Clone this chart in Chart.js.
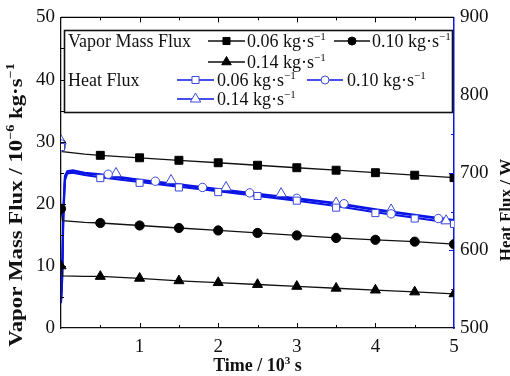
<!DOCTYPE html>
<html><head><meta charset="utf-8">
<script src="https://cdn.jsdelivr.net/npm/chart.js@4/dist/chart.umd.min.js"></script>
<style>html,body{margin:0;padding:0;background:#fff;overflow:hidden}#wrap{width:510px;height:376px;position:relative}</style>
</head><body><div id="wrap"><canvas id="c" width="510" height="376"></canvas></div>
<script>
// ---- Vapor mass flux (left axis, 10^-6 kg/s) ----
const blackTimes = [0, 0.02, 0.3, 0.5, 1.0, 1.5, 2.0, 2.5, 3.0, 3.5, 4.0, 4.5, 5.0];
const vmf006 = [29.5, 28.4, 28.0, 27.8, 27.4, 27.0, 26.6, 26.2, 25.8, 25.4, 25.0, 24.6, 24.2];
const vmf010 = [19.2, 17.3, 17.0, 16.9, 16.5, 16.1, 15.7, 15.3, 14.9, 14.5, 14.2, 13.9, 13.5];
const vmf014 = [10.0, 8.4, 8.3, 8.3, 8.0, 7.6, 7.3, 7.0, 6.7, 6.4, 6.1, 5.8, 5.5];
// ---- Heat flux (right axis, W) lines ----
const heatTimes = [0, 0.015, 0.03, 0.05, 0.08, 0.15, 0.3, 0.5, 1.0, 1.5, 2.0, 2.5, 3.0, 3.5, 4.0, 4.5, 5.0];
const hf006 = [532, 560, 640, 690, 699, 700, 697, 694, 688, 682, 676, 670, 664, 657, 649, 642, 635];
const hf010 = [533, 565, 648, 694, 701, 702, 699, 697, 690, 684, 678, 672, 666, 660, 652, 645, 638];
const hf014 = [534, 570, 655, 696, 702, 703, 700, 698, 691, 685, 679, 673, 667, 661, 653, 646, 639];
// ---- Heat flux open markers ----
const hfMarkT006 = [0, 0.5, 1.0, 1.5, 2.0, 2.5, 3.0, 3.5, 4.0, 4.5, 5.0];
const hfMark006 = [733, 693, 687, 681, 675, 670, 664, 655, 648, 641, 634];
const hfMarkT010 = [0, 0.6, 1.2, 1.8, 2.4, 3.0, 3.6, 4.2, 4.8];
const hfMark010 = [737, 698, 689, 681, 674, 667, 660, 647, 641];
const hfMarkT014 = [0, 0.7, 1.4, 2.1, 2.8, 3.5, 4.2, 4.9];
const hfMark014 = [741, 699, 690, 681, 673, 661, 652, 638];
// ---- labels ----
const xTitle = [['Time / 10'], ['3', 1], [' s']];
const yTitle = [['Vapor Mass Flux / 10'], ['\u22126', 1], [' kg\u00b7s'], ['\u22121', 1]];
const y2Title = [['Heat Flux / W']];
const legendGroup1 = 'Vapor Mass Flux';
const legendGroup2 = 'Heat Flux';
const seriesLabels = ['0.06', '0.10', '0.14'];

const BLUE = '#0a14e6';
const MBLUE = '#3a48d8';
const SERIF = '"Liberation Serif", "Times New Roman", serif';

const pts = (xs, ys) => xs.map((x, i) => ({x, y: ys[i]}));
const halfStepR = r => ctx => {
  const t = blackTimes[ctx.dataIndex];
  return Math.abs(t * 2 - Math.round(t * 2)) < 1e-6 ? r : 0;
};

function blueLine(data) {
  return {data: pts(heatTimes, data), yAxisID: 'y2', borderColor: BLUE, borderWidth: 2, pointRadius: 0, tension: 0, clip: 0, order: 5};
}
function blueMarks(xs, ys, style, r) {
  return {data: pts(xs, ys), yAxisID: 'y2', showLine: false, pointStyle: style, pointRadius: r,
    pointBackgroundColor: '#fff', pointBorderColor: MBLUE, pointBorderWidth: 1, clip: 0, order: 1};
}
function blackLine(data, style, r) {
  return {data: pts(blackTimes, data), yAxisID: 'y', borderColor: '#111', borderWidth: 1.3, tension: 0,
    pointStyle: style, pointRadius: halfStepR(r), pointBackgroundColor: '#000', pointBorderColor: '#000', pointBorderWidth: 1, clip: 0, order: 2};
}

function rich(ctx, parts, x, y, size, bold, align) {
  const f = s => (bold ? 'bold ' : '') + s + 'px ' + SERIF;
  let w = 0;
  parts.forEach(p => { ctx.font = f(p[1] ? size * 0.62 : size); w += ctx.measureText(p[0]).width; });
  let cx = align === 'center' ? x - w / 2 : x;
  ctx.textAlign = 'left'; ctx.textBaseline = 'alphabetic';
  parts.forEach(p => {
    const s = p[1] ? size * 0.62 : size;
    ctx.font = f(s);
    ctx.fillText(p[0], cx, p[1] ? y - size * 0.4 : y);
    cx += ctx.measureText(p[0]).width;
  });
}
const unit = v => [[v + ' kg\u00b7s'], ['\u22121', 1]];

const deco = {
  id: 'deco',
  afterDraw(chart) {
    const ctx = chart.ctx, a = chart.chartArea;
    const sx = chart.scales.x, sy = chart.scales.y, sy2 = chart.scales.y2;
    ctx.save();
    // top frame
    ctx.strokeStyle = '#000'; ctx.lineWidth = 1.2;
    ctx.beginPath(); ctx.moveTo(a.left, a.top); ctx.lineTo(a.right, a.top); ctx.stroke();
    // inward ticks
    ctx.lineWidth = 1;
    ctx.beginPath();
    for (let v = 0.5; v < 5; v += 0.5) {
      const px = Math.round(sx.getPixelForValue(v)) + 0.5;
      const L = Number.isInteger(v) ? 5 : 3;
      ctx.moveTo(px, a.bottom); ctx.lineTo(px, a.bottom - L);
      ctx.moveTo(px, a.top); ctx.lineTo(px, a.top + L);
    }
    for (let v = 5; v < 50; v += 5) {
      const py = Math.round(sy.getPixelForValue(v)) + 0.5;
      const L = v % 10 === 0 ? 5 : 3;
      ctx.moveTo(a.left, py); ctx.lineTo(a.left + L, py);
    }
    ctx.stroke();
    ctx.strokeStyle = BLUE; ctx.beginPath();
    for (let v = 550; v < 900; v += 50) {
      const py = Math.round(sy2.getPixelForValue(v)) + 0.5;
      const L = v % 100 === 0 ? 5 : 3;
      ctx.moveTo(a.right, py); ctx.lineTo(a.right - L, py);
    }
    ctx.stroke();
    // legend box
    ctx.fillStyle = '#fff';
    ctx.fillRect(65, 31, 387, 81);
    ctx.strokeStyle = '#111'; ctx.lineWidth = 1.6;
    ctx.strokeRect(64.5, 30.5, 388, 82);
    ctx.fillStyle = '#111';
    rich(ctx, [[legendGroup1]], 68, 47, 18, false);
    rich(ctx, [[legendGroup2]], 68, 86, 18, false);
    const H = Chart.helpers;
    function sample(x1, x2, y, color, style, r, filled, lw) {
      ctx.strokeStyle = color; ctx.lineWidth = lw;
      ctx.beginPath(); ctx.moveTo(x1, y); ctx.lineTo(x2, y); ctx.stroke();
      ctx.fillStyle = filled ? '#000' : '#fff';
      ctx.strokeStyle = filled ? '#000' : MBLUE; ctx.lineWidth = 1;
      H.drawPoint(ctx, {pointStyle: style, radius: r, rotation: 0, borderWidth: 1}, (x1 + x2) / 2, y);
    }
    sample(208, 245, 41, '#111', 'rect', 5, true, 1.3);
    sample(334, 370, 41, '#111', 'circle', 4, true, 1.3);
    sample(208, 245, 62, '#111', 'triangle', 5.5, true, 1.3);
    sample(177, 214, 80, BLUE, 'rect', 5, false, 1.5);
    sample(307, 343, 80, BLUE, 'circle', 4, false, 1.5);
    sample(177, 214, 99, BLUE, 'triangle', 6, false, 1.5);
    ctx.fillStyle = '#111';
    rich(ctx, unit(seriesLabels[0]), 247, 47, 18, false);
    rich(ctx, unit(seriesLabels[1]), 372, 47, 18, false);
    rich(ctx, unit(seriesLabels[2]), 247, 68, 18, false);
    rich(ctx, unit(seriesLabels[0]), 217, 86, 18, false);
    rich(ctx, unit(seriesLabels[1]), 347, 86, 18, false);
    rich(ctx, unit(seriesLabels[2]), 217, 105, 18, false);
    // axis titles
    rich(ctx, xTitle, (a.left + a.right) / 2, 371, 18, true, 'center');
    ctx.save(); ctx.translate(0, 205); ctx.rotate(-Math.PI / 2); ctx.scale(1.2, 1);
    rich(ctx, yTitle, 0, 22, 19, true, 'center'); ctx.restore();
    ctx.save(); ctx.translate(0, 210); ctx.rotate(-Math.PI / 2);
    rich(ctx, y2Title, 0, 511, 17, true, 'center'); ctx.restore();
    ctx.restore();
  }
};

const tickFont = {family: SERIF, size: 19};
new Chart(document.getElementById('c'), {
  type: 'line',
  data: {datasets: [
    blueLine(hf006), blueLine(hf010), blueLine(hf014),
    blackLine(vmf006, 'rect', 5.6), blackLine(vmf010, 'circle', 4.6), blackLine(vmf014, 'triangle', 5.8),
    blueMarks(hfMarkT006, hfMark006, 'rect', 5), blueMarks(hfMarkT010, hfMark010, 'circle', 4.2), blueMarks(hfMarkT014, hfMark014, 'triangle', 6)
  ]},
  options: {
    responsive: false, animation: false, devicePixelRatio: 1,
    layout: {padding: {top: 15, left: 0, right: 0, bottom: 0}},
    plugins: {legend: {display: false}, tooltip: {enabled: false}},
    scales: {
      x: {type: 'linear', position: 'bottom', min: 0, max: 5,
        ticks: {stepSize: 1, font: tickFont, color: '#111', padding: 8, maxRotation: 0, callback: v => v === 0 ? '' : v},
        grid: {display: true, drawOnChartArea: false, drawTicks: false},
        border: {display: true, color: '#111', width: 1.3},
        afterFit: s => { s.height = 48; }},
      y: {type: 'linear', position: 'left', min: 0, max: 50,
        ticks: {stepSize: 10, font: tickFont, color: '#111', padding: 6},
        grid: {display: true, drawOnChartArea: false, drawTicks: false},
        border: {display: true, color: '#111', width: 1.3},
        afterFit: s => { s.width = 61; }},
      y2: {type: 'linear', position: 'right', min: 500, max: 900,
        ticks: {stepSize: 100, font: tickFont, color: '#111', padding: 6},
        grid: {display: true, drawOnChartArea: false, drawTicks: false},
        border: {display: true, color: BLUE, width: 1.5},
        afterFit: s => { s.width = 56; }}
    }
  },
  plugins: [deco]
});
</script></body></html>
